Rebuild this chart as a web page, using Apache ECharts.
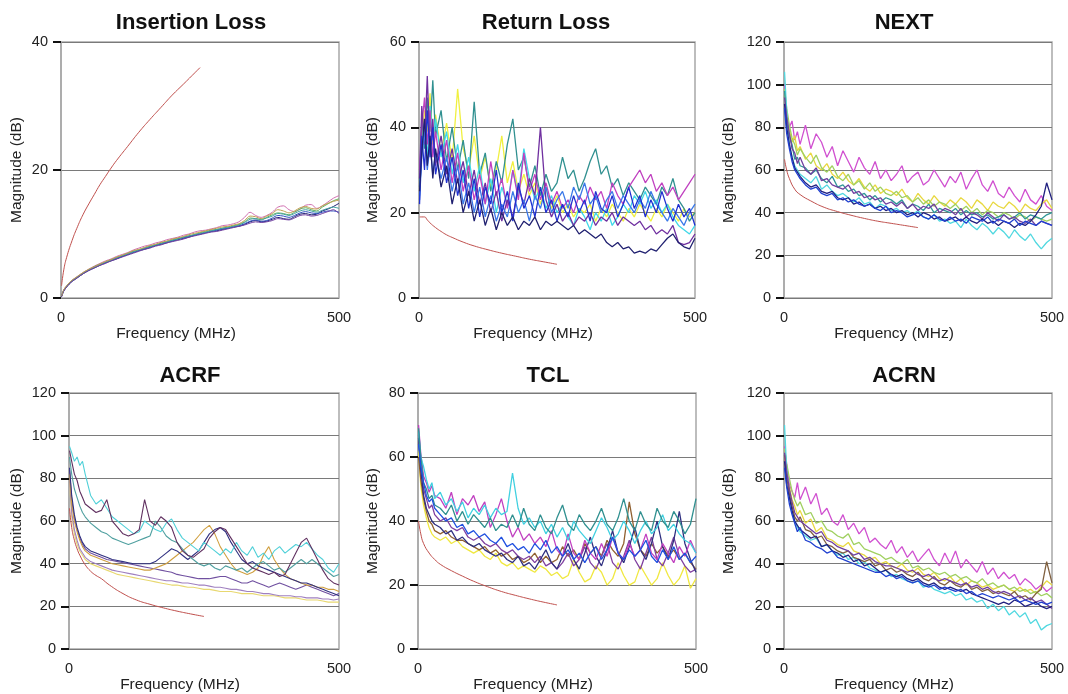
<!DOCTYPE html>
<html><head><meta charset="utf-8">
<script src="https://cdn.jsdelivr.net/npm/echarts@6/dist/echarts.min.js"></script>
<style>html,body{margin:0;padding:0;background:#fff}#c{width:1068px;height:694px}</style>
</head><body><div id="c"></div>
<script>
// Shared frequency grid (MHz) for the measured traces
const FREQ = [1,5,10,15,20,25,30,
  40,50,60,70,80,90,100,
  110,120,130,140,150,160,170,180,190,200,
  210,220,230,240,250,260,270,280,290,300,
  310,320,330,340,350,360,370,380,390,400,
  410,420,430,440,450,460,470,480,490,500];
const X_TICKS = [0, 500];

// ---------- Insertion Loss ----------
const IL_LIMIT_F = [1,5,10,20,30,40,50,60,70,80,90,100,120,140,160,180,200,220,250];
const IL_LIMIT_V = [1.9,4.4,6.3,9.0,11.2,13.1,14.7,16.2,17.7,19.0,20.3,21.5,23.7,25.9,27.9,29.8,31.7,33.4,36.0];
const IL_1 = [0.3,1.3,1.9,2.4,2.8,3.1,3.4, 4.0,4.5,5.0,5.4,5.8,6.1,6.5, 6.8,7.1,7.5,7.8,8.1,8.3,8.6,8.8,9.1,9.3, 9.5,9.8,10.0,10.3,10.5,10.6,10.8,11.0,11.3,11.4, 11.6,11.9,12.6,13.4,12.9,12.6,12.9,13.4,14.2,14.4, 13.8,13.5,13.9,14.5,14.6,14.0,14.4,15.0,15.6,16.0];
const IL_2 = [0.3,1.2,1.8,2.3,2.7,3.0,3.3, 3.9,4.4,4.9,5.3,5.6,6.0,6.3, 6.6,7.0,7.3,7.5,7.8,8.1,8.3,8.6,8.8,9.1, 9.3,9.5,9.7,9.9,10.2,10.4,10.6,10.7,10.9,11.1, 11.3,11.5,11.9,12.5,12.4,12.2,12.6,13.0,13.3,13.2, 13.0,13.4,13.9,14.1,13.8,13.6,14.2,14.7,15.2,15.5];
const IL_3 = [0.2,1.1,1.7,2.2,2.6,2.9,3.2, 3.8,4.3,4.7,5.1,5.5,5.8,6.1, 6.5,6.8,7.1,7.4,7.6,7.9,8.2,8.4,8.6,8.9, 9.1,9.3,9.5,9.8,10.0,10.2,10.4,10.5,10.7,10.9, 11.1,11.2,11.5,11.9,12.1,11.9,12.0,12.3,12.6,12.4, 12.3,12.7,13.1,13.2,13.0,13.1,13.6,13.9,14.3,14.8];
const IL_4 = [0.3,1.2,1.8,2.3,2.7,3.0,3.3, 3.9,4.4,4.8,5.2,5.5,5.9,6.2, 6.5,6.9,7.2,7.4,7.7,8.0,8.2,8.5,8.7,8.9, 9.2,9.4,9.6,9.8,10.0,10.2,10.4,10.6,10.8,10.9, 11.1,11.3,11.6,12.0,12.2,12.0,12.1,12.5,12.9,12.8, 12.6,12.9,13.3,13.5,13.3,13.2,13.4,13.6,13.6,13.4];
const IL_5 = [0.3,1.2,1.8,2.3,2.7,3.0,3.3, 3.9,4.4,4.8,5.2,5.6,5.9,6.3, 6.6,6.9,7.2,7.5,7.8,8.0,8.3,8.5,8.8,9.0, 9.2,9.5,9.7,9.9,10.1,10.3,10.5,10.7,10.9,11.0, 11.2,11.4,11.8,12.3,12.4,12.3,12.5,12.8,13.2,13.1, 12.9,13.2,13.6,13.8,13.6,13.4,13.7,14.0,14.2,14.0];
const IL_6 = [0.2,1.1,1.7,2.2,2.6,2.9,3.2, 3.8,4.3,4.7,5.1,5.4,5.8,6.1, 6.4,6.7,7.0,7.3,7.6,7.8,8.1,8.3,8.6,8.8, 9.0,9.2,9.5,9.7,9.9,10.1,10.3,10.4,10.6,10.8, 11.0,11.2,11.4,11.7,11.9,11.8,11.9,12.1,12.4,12.3, 12.2,12.5,12.9,13.0,12.8,12.9,13.2,13.5,13.8,13.2];
const IL_7 = [0.3,1.3,1.9,2.4,2.8,3.1,3.4, 4.0,4.5,4.9,5.3,5.7,6.0,6.4, 6.7,7.0,7.4,7.6,7.9,8.2,8.4,8.7,8.9,9.2, 9.4,9.6,9.9,10.1,10.3,10.5,10.7,10.9,11.1,11.2, 11.4,11.6,12.1,12.8,12.7,12.4,12.8,13.2,13.8,13.6, 13.3,13.6,14.1,14.3,14.0,13.9,14.4,14.8,15.1,15.3];

// ---------- Return Loss ----------
const RL_LIMIT_F = [1,5,10,15,20,30,40,50,60,80,100,125,150,175,200,225,250];
const RL_LIMIT_V = [19,19,19,18.3,17.6,16.5,15.6,14.8,14.2,13.1,12.2,11.3,10.5,9.8,9.1,8.5,7.9];
const RL_1 = [22,38,30,44,33,40,29, 36,27,33,24,30,21,28, 19,26,22,30,20,25,18,27,21,24, 19,26,20,23,18,22,19,24,20,23, 18,25,21,20,24,19,22,26,21,24, 19,23,20,25,21,18,22,19,21,17];
const RL_2 = [25,34,42,31,38,28,35, 26,31,22,28,20,25,18, 23,17,21,16,20,17,19,16,18,17, 19,16,18,17,18,17,16,17,15,16, 15,14,15,13,12,13,11.5,12,10.5,11, 10.5,11.5,11,12.5,14,15,13,12,11.5,14];
const RL_3 = [28,45,36,52,35,42,31, 38,29,35,27,32,24,30, 22,27,20,25,18,23,19,26,22,28, 24,40,23,19,22,18,20,17,19,18, 20,17,19,18,20,17,19,18,17,18, 16,17,15,16,15,17,13,12.5,13,15];
const RL_4 = [30,40,47,36,44,33,39, 30,37,27,34,25,31,23, 29,22,32,24,28,21,30,23,34,25, 29,23,27,22,25,21,23,20,24,22, 26,23,25,21,27,24,22,26,28,30, 27,29,25,27,24,26,23,25,27,29];
const RL_5 = [24,36,41,33,45,37,42, 33,39,29,36,27,33,25, 31,22,28,20,26,22,30,24,35,28, 23,26,21,24,20,22,19,17,21,19, 16,20,18,21,17,19,22,20,24,22, 25,21,23,20,22,19,17,16,15,17];
const RL_6 = [26,42,35,47,39,51,38, 44,32,40,30,37,28,46, 29,34,25,32,27,36,42,30,33,26, 31,24,29,25,27,33,28,30,25,28, 32,35,29,31,26,28,24,27,25,23, 26,24,22,26,24,28,23,21,18,20];
const RL_7 = [27,37,44,39,48,36,43, 34,41,32,49,35,30,38, 28,33,26,30,38,27,32,25,29,24, 27,22,26,21,24,20,22,19,21,20, 22,18,21,19,22,20,18,21,19,22, 20,18,21,19,22,20,18,21,19,20];
const RL_8 = [23,33,39,30,36,29,34, 28,33,25,31,22,27,20, 26,19,24,18,22,19,25,20,23,18, 24,21,26,20,23,25,21,26,23,27, 22,24,20,23,25,21,24,22,20,23, 21,25,22,20,18,21,19,17,20,22];

// ---------- NEXT ----------
const NEXT_LIMIT_F = [1,5,10,20,30,50,75,100,125,150,175,200,225,250];
const NEXT_LIMIT_V = [65,60,56,51,48.5,45.5,42.5,40.5,38.8,37.3,36,35,34,33];
const NX_1 = [100,86,80,83,74,78,72, 81,70,77,73,66,71,62, 69,64,59,66,61,58,64,56,60,55, 58,62,54,57,59,53,55,60,56,52, 57,54,59,51,56,60,53,50,55,49, 47,52,48,45,51,46,44,48,43,41];
const NX_2 = [95,84,79,73,76,69,71, 65,68,62,60,63,58,56, 59,55,53,56,52,50,53,49,51,50, 48,51,47,45,49,46,44,48,45,43, 46,44,47,45,42,46,44,41,45,43, 42,45,43,40,44,42,41,44,46,42];
const NX_3 = [106,88,72,66,62,60,58, 56,54,57,51,53,50,48, 49,47,45,47,44,45,42,44,43,41, 42,40,41,39,41,38,37,39,36,37, 35,36,33,37,34,32,35,33,30,33, 31,28,32,29,27,30,26,23,26,28];
const NX_4 = [91,80,72,66,61,59,57, 54,52,53,50,49,50,47, 46,47,44,45,43,44,42,43,41,42, 40,41,39,40,38,40,39,37,38,36, 37,38,36,38,36,35,37,35,36,34, 36,35,33,35,34,36,39,43,54,46];
const NX_5 = [89,77,70,64,60,58,56, 53,51,52,49,48,49,46, 47,45,46,44,43,44,42,41,43,40, 41,40,38,39,40,38,37,39,37,36, 38,36,37,35,38,37,36,38,35,37, 36,35,37,34,36,35,34,36,35,34];
const NX_6 = [94,85,77,70,68,63,66, 60,58,61,55,56,53,52, 51,53,49,50,47,48,46,47,44,45, 43,45,42,44,41,43,42,44,40,42, 41,39,42,38,40,39,37,40,38,36, 39,37,38,36,35,37,34,36,35,34];
const NX_7 = [98,89,81,75,72,67,70, 66,63,67,61,59,62,57, 55,58,53,55,51,54,50,52,49,48, 50,47,48,45,47,44,46,43,45,44, 42,44,41,43,40,42,39,41,40,38, 40,39,37,39,38,36,38,37,36,37];
const NX_8 = [97,83,76,72,65,66,62, 61,58,60,56,54,57,52, 53,50,51,48,49,46,48,45,47,46, 44,46,42,44,43,41,44,40,42,41, 40,42,39,41,39,40,38,39,37,38, 39,37,38,40,37,39,38,37,39,40];

// ---------- ACRF ----------
const ACRF_LIMIT_F = [1,5,10,15,20,30,40,50,60,75,100,125,150,175,200,225,250];
const ACRF_LIMIT_V = [66,57,51,47,44,39.5,36.5,34.5,33,30,26,23,21,19.3,17.8,16.5,15.3];
const AF_1 = [95,92,88,90,86,88,82, 72,68,70,66,62,60,58, 56,54,55,60,58,56,55,59,61,56, 52,50,48,46,50,48,46,44,47,45, 50,46,44,48,43,45,42,46,48,45, 47,49,48,50,47,44,42,38,36,40];
const AF_2 = [93,88,82,79,74,71,68, 66,64,65,70,60,57,54, 53,54,56,70,60,58,62,60,57,50, 46,44,43,45,47,52,55,57,56,52, 48,44,40,38,37,36,35,36,34,35, 40,45,50,52,47,42,37,33,31,30];
const AF_3 = [90,82,75,71,67,64,62, 59,57,55,54,52,51,50, 49,50,51,52,53,60,57,53,51,50, 47,44,42,40,39,40,38,37,39,38, 37,38,36,38,40,41,39,37,38,36, 38,40,42,40,42,40,38,36,34,35];
const AF_4 = [85,72,63,57,53,50,48, 46,45,44,43,42,41.5,41, 40.5,40,40,40,40,41,43,45,47,46, 44,42,44,46,50,54,56,57,55,50, 46,42,40,41,39,38,37,36,35,34, 33,32,31,31,30,29,28,27,26,25];
const AF_5 = [82,68,60,55,51,48,46, 44,43,42,41,40,39.5,39, 38.5,38,37.5,37,37,38,39,40,42,44, 46,48,50,53,56,58,54,48,44,40, 37,36,35,36,38,44,48,42,38,35, 33,32,31,30,30,29,29,28,28,27];
const AF_6 = [80,64,56,51,47,45,43, 41,40,39,38,37,36.5,36, 35.5,35,34.5,34,33.5,33,32.5,32,32,31.5, 31,31,30.5,30,30,29.5,29,29,28.5,28, 28,27.5,27,27,26.5,26,26,25.5,25,25, 25,24.5,24.5,24,24,24,23.5,23.5,23,23.5];
const AF_7 = [78,62,54,49,46,44,42, 40,39,38,37,36,35,34.5, 34,33.5,33,32.5,32,31.5,31,30.5,30,30, 29.5,29,29,28.5,28,28,27.5,27,27,27, 26.5,26,26,26,25.5,25,25,25,24.5,24, 24,24,23.5,23,23,23,22.5,22,22,22];
const AF_8 = [84,70,61,56,52,49,47, 45,44,43,42,41.5,41,40.5, 40,39.5,39,38.5,38,37.5,37,36.5,36,35, 34.5,34,33.5,33,33,33,33.5,34,34,33, 32,31,31,32,31,30,29,30,31,30, 29,28,29,30,29,28,27,26,25,26];

// ---------- TCL ----------
const TCL_LIMIT_F = [1,5,10,20,30,40,60,80,100,125,150,175,200,225,250];
const TCL_LIMIT_V = [40,36,33,30,28,26.5,24.5,22.8,21.2,19.5,18,16.8,15.7,14.7,13.8];
const TC_1 = [62,51,45,41,38,36,35, 34,35,33,34,32,31,30, 31,29,28,30,27,26,27,25,26,25, 24,26,25,23,24,22,23,28,24,21, 22,26,24,20,22,27,23,20,21,26, 23,20,22,27,23,20,22,26,19,22];
const TC_2 = [66,56,48,44,42,40,39, 38,36,37,34,35,33,32, 33,31,30,29,30,28,27,29,26,27, 25,28,31,27,25,29,33,28,25,30, 35,29,26,31,37,30,27,32,38,31, 28,33,40,32,28,34,43,33,28,24];
const TC_3 = [70,61,54,52,49,51,48, 47,44,49,42,47,45,48, 43,46,38,42,47,40,35,38,34,36, 33,35,32,37,31,29,36,30,28,34, 30,28,33,29,35,30,28,33,29,31, 36,30,28,33,30,27,32,29,34,30];
const TC_4 = [68,60,57,53,50,52,47, 49,45,47,43,46,41,44, 42,45,41,44,42,43,55,44,39,41, 38,40,36,39,35,38,34,40,37,35, 33,37,41,38,34,36,40,37,33,37, 40,36,38,42,37,39,36,34,33,30];
const TC_5 = [64,57,52,48,46,47,44, 42,40,41,38,39,36,37, 35,36,34,33,35,32,33,31,32,30, 33,31,34,30,32,29,31,28,30,27, 30,32,28,31,35,30,28,31,29,31, 34,29,27,31,28,32,28,30,27,29];
const TC_6 = [69,60,52,50,47,48,45, 44,42,45,40,43,39,42, 40,38,41,37,39,38,42,38,44,39, 37,42,38,36,41,45,39,37,42,39, 37,40,44,39,37,41,47,40,37,43, 39,37,44,40,38,43,40,36,39,47];
const TC_7 = [67,57,50,47,44,45,42, 40,41,38,37,38,35,34, 35,33,32,33,31,30,31,29,28,29, 27,29,26,27,25,27,30,26,28,32, 27,25,29,33,27,25,29,34,28,25, 30,35,28,26,30,35,29,26,24,25];
const TC_8 = [60,53,47,43,40,39,37, 36,37,35,34,34,33,32, 31,32,30,31,29,30,28,29,27,28, 30,27,29,27,28,32,29,31,28,33, 30,32,29,34,31,29,33,46,36,31, 29,33,30,32,29,31,28,30,27,25];

// ---------- ACRN ----------
const AN_1 = [95,86,77,74,71,78,70, 76,68,73,63,66,60,58, 63,56,59,54,57,50,52,49,47,51, 45,48,43,46,41,44,47,42,39,45, 40,46,38,42,39,36,41,35,38,33, 36,33,35,30,33,31,28,30,27,29];
const AN_2 = [90,81,76,70,67,63,65, 59,61,55,57,52,51,49, 48,50,46,45,44,42,43,40,41,39, 38,40,37,36,38,35,34,36,33,32, 34,31,33,30,32,31,29,30,28,29, 30,28,27,29,27,28,26,29,32,30];
const AN_3 = [105,84,72,64,60,57,55, 53,51,52,48,49,46,44, 45,42,43,40,41,38,37,36,37,34, 35,33,32,31,32,29,30,28,27,26, 27,25,26,23,24,22,23,19,21,18, 20,16,18,15,17,12,14,9,11,12];
const AN_4 = [88,77,71,65,60,58,56, 54,52,53,48,49,46,45, 43,44,41,42,39,40,38,36,37,35, 34,35,33,32,33,31,30,31,29,28, 29,28,27,28,26,25,24,23,22,21, 22,21,23,22,20,21,22,20,19,20];
const AN_5 = [85,76,68,63,59,55,57, 51,50,48,47,45,46,43, 42,41,40,39,38,37,36,36,34,35, 33,34,32,31,32,30,29,30,28,29, 28,27,28,26,27,25,26,25,24,25, 24,23,24,22,23,22,21,22,21,22];
const AN_6 = [92,83,75,69,64,62,60, 58,56,54,55,51,50,48, 47,46,44,45,42,43,41,40,39,39, 38,37,36,37,35,34,35,33,32,33, 32,31,30,31,29,30,28,29,27,26, 27,26,24,25,23,24,22,23,21,19];
const AN_7 = [94,87,80,74,70,67,69, 63,64,59,60,56,55,53, 52,54,49,50,47,46,45,44,42,43, 41,40,42,38,39,37,38,36,35,36, 34,35,33,34,32,31,33,30,31,29, 30,28,29,27,28,26,27,25,26,24];
const AN_8 = [91,81,73,67,62,60,62, 56,55,52,53,49,48,46, 45,46,43,42,41,42,39,40,37,38, 36,37,35,34,36,33,32,34,31,30, 32,30,29,31,28,29,27,28,26,27, 26,25,27,24,25,23,26,28,41,31];

const LIMIT_COLOR = '#c0504d';
const FONT = 'Liberation Sans';

const panels = [
  { title:'Insertion Loss', cx:186, ty:7,  grid:{left:61, top:42, width:278, height:256}, yMax:40, yInt:20, yGap:36, lw:1,
    traces:[[IL_1,'#d070b0'],[IL_2,'#60b060'],[IL_3,'#202070'],[IL_4,'#3050c0'],[IL_5,'#40a0a0'],[IL_6,'#7040a0'],[IL_7,'#c0a050']],
    limit:[IL_LIMIT_F, IL_LIMIT_V], smooth:0.3 },
  { title:'Return Loss', cx:541, ty:7, grid:{left:419, top:42, width:276, height:256}, yMax:60, yInt:20, yGap:38, lw:1.3,
    traces:[[RL_7,'#f0f040'],[RL_6,'#309090'],[RL_5,'#40d8e8'],[RL_4,'#c040c0'],[RL_3,'#7030a0'],[RL_8,'#3a78e8'],[RL_1,'#2030d0'],[RL_2,'#202070']],
    limit:[RL_LIMIT_F, RL_LIMIT_V], smooth:false },
  { title:'NEXT', cx:899, ty:7, grid:{left:784, top:42, width:268, height:256}, yMax:120, yInt:20, yGap:47, lw:1.3,
    traces:[[NX_1,'#d050d0'],[NX_2,'#e8d840'],[NX_7,'#a0d060'],[NX_3,'#50d8e0'],[NX_8,'#309898'],[NX_6,'#7040a0'],[NX_4,'#202080'],[NX_5,'#2040d0']],
    limit:[NEXT_LIMIT_F, NEXT_LIMIT_V], smooth:false },
  { title:'ACRF', cx:185, ty:360, grid:{left:69, top:393, width:270, height:257}, yMax:120, yInt:20, yGap:44, lw:1.1,
    traces:[[AF_7,'#e8d870'],[AF_6,'#a080c0'],[AF_8,'#7050a0'],[AF_5,'#d0a040'],[AF_4,'#303080'],[AF_3,'#50a0a0'],[AF_1,'#50d0d8'],[AF_2,'#603060']],
    limit:[ACRF_LIMIT_F, ACRF_LIMIT_V], smooth:false },
  { title:'TCL', cx:543, ty:360, grid:{left:418, top:393, width:278, height:257}, yMax:80, yInt:20, yGap:37, lw:1.3,
    traces:[[TC_1,'#f0e840'],[TC_8,'#906030'],[TC_7,'#8040a0'],[TC_2,'#303080'],[TC_3,'#c040c0'],[TC_4,'#40d0e0'],[TC_6,'#309090'],[TC_5,'#2050e0']],
    limit:[TCL_LIMIT_F, TCL_LIMIT_V], smooth:false },
  { title:'ACRN', cx:899, ty:360, grid:{left:784, top:393, width:268, height:257}, yMax:120, yInt:20, yGap:47, lw:1.3,
    traces:[[AN_1,'#d050d0'],[AN_2,'#e8d840'],[AN_7,'#a0d060'],[AN_3,'#50d8e0'],[AN_8,'#806040'],[AN_6,'#7040a0'],[AN_4,'#202080'],[AN_5,'#2040d0']],
    limit:null, smooth:false }
];

const option = { animation:false, backgroundColor:'#fff', title:[], grid:[], xAxis:[], yAxis:[], series:[] };
panels.forEach((p, k) => {
  option.title.push({ text:p.title, left:p.cx, top:p.ty, textAlign:'center',
    textStyle:{ fontFamily:FONT, fontWeight:'bold', fontSize:22, color:'#111' } });
  option.grid.push(Object.assign({ show:true, borderColor:'#a8a8a8', borderWidth:1.5, backgroundColor:'#fff' }, p.grid));
  option.xAxis.push({ type:'value', gridIndex:k, min:X_TICKS[0], max:X_TICKS[1], interval:X_TICKS[1]-X_TICKS[0],
    name:'Frequency (MHz)', nameLocation:'middle', nameGap:25,
    nameTextStyle:{ fontFamily:FONT, fontSize:15.5, color:'#222', padding:[0,48,0,0] },
    axisLine:{ show:false }, axisTick:{ show:false }, splitLine:{ show:false },
    axisLabel:{ fontFamily:FONT, fontSize:14.5, color:'#222', margin:12 } });
  option.yAxis.push({ type:'value', gridIndex:k, min:0, max:p.yMax, interval:p.yInt,
    name:'Magnitude (dB)', nameLocation:'middle', nameGap:p.yGap, nameRotate:90,
    nameTextStyle:{ fontFamily:FONT, fontSize:15.5, color:'#222' },
    axisLine:{ show:true, lineStyle:{ color:'#a8a8a8', width:1.5 } },
    axisTick:{ show:true, length:8, lineStyle:{ color:'#111', width:2 } },
    splitLine:{ show:true, lineStyle:{ color:'#7a7a7a', width:1 } },
    axisLabel:{ fontFamily:FONT, fontSize:14.5, color:'#222', margin:13 } });
  p.traces.forEach(([vals, color], j) => {
    option.series.push({ type:'line', name:p.title + ' ' + (j+1), xAxisIndex:k, yAxisIndex:k,
      data: FREQ.map((f, i) => [f, vals[i]]), showSymbol:false, symbol:'none', smooth:p.smooth,
      lineStyle:{ color, width:p.lw }, itemStyle:{ color }, silent:true, z:2 });
  });
  if (p.limit) {
    const [lf, lv] = p.limit;
    option.series.push({ type:'line', name:p.title + ' limit', xAxisIndex:k, yAxisIndex:k,
      data: lf.map((f, i) => [f, lv[i]]), showSymbol:false, symbol:'none', smooth:true,
      lineStyle:{ color:LIMIT_COLOR, width:1 }, itemStyle:{ color:LIMIT_COLOR }, silent:true, z:3 });
  }
});

const chart = echarts.init(document.getElementById('c'), null, { renderer:'canvas' });
chart.setOption(option);
</script>
</body></html>
